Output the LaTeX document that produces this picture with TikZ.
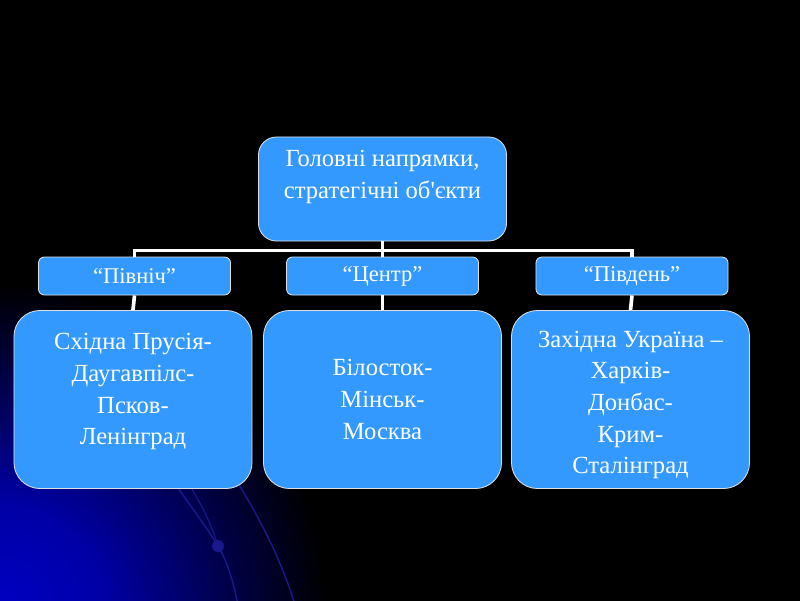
\documentclass[tikz,border=0pt]{standalone}
\usepackage{fontspec}
\setmainfont{Liberation Serif}
\newfontfamily\slidefont{Liberation Serif}
\usetikzlibrary{positioning}
\definecolor{boxblue}{RGB}{51,153,255}
\definecolor{swirl}{RGB}{25,25,140}
\definecolor{deepblue}{RGB}{0,0,195}
\pgfdeclareradialshading{slideglow}{\pgfpoint{0bp}{0bp}}{color(0bp)=(deepblue); color(6bp)=(deepblue!85!black); color(19bp)=(black); color(50bp)=(black)}
\newcommand{\padbelow}[1]{\rule[-#1]{0pt}{#1}}
\newcommand{\padabove}[1]{\rule{0pt}{#1}}
\begin{document}
\begin{tikzpicture}[x=0.025cm, y=-0.025cm,
      every node/.style={text=white, font=\slidefont\fontsize{17.5}{22.5}\selectfont},
      root/.style={draw=white!75!gray, line width=0.6pt, fill=boxblue, rounded corners=0.45cm, minimum width=6.2cm, minimum height=2.6cm, align=center},
      dir/.style={draw=white!75!gray, line width=0.6pt, fill=boxblue, rounded corners=0.15cm, minimum width=4.8cm, minimum height=0.95cm, font=\slidefont\fontsize{16}{19}\selectfont},
      goal/.style={draw=white!75!gray, line width=0.6pt, fill=boxblue, rounded corners=0.65cm, minimum width=5.95cm, minimum height=4.45cm, align=center},
      link/.style={white, line width=2.6pt},
    ]
    \useasboundingbox (0,0) rectangle (800,600);

    % background
    \fill[black] (-10,-10) rectangle (810,610);
    \begin{scope}
      \clip (-10,-10) rectangle (810,610);
      \shade[shading=slideglow] (-430,180) rectangle (430,1040);
      \draw[swirl, line width=1pt] (165,470) .. controls (190,505) and (205,525) .. (218,546) .. controls (226,560) and (232,575) .. (238,605);
      \draw[swirl, line width=0.8pt] (180,470) .. controls (200,500) and (212,525) .. (218,546);
      \draw[swirl, line width=1pt] (230,470) .. controls (255,510) and (280,555) .. (295,605);
      \fill[swirl] (218,546) circle (6);
    \end{scope}

    \node[root] (golovni) at (382.5,189) {Головні напрямки,\\ стратегічні об\textquotesingle єкти\padbelow{20.8pt}};

    \node[dir] (pivnich) at (134.5,276) {“Північ”};
    \node[dir] (tsentr) at (382.5,276) {“Центр”};
    \node[dir] (pivden) at (632,276) {“Південь”};

    \node[goal] (skhid) at (133,399.5) {Східна Прусія-\\ Даугавпілс-\\ Псков-\\ Ленінград\padbelow{14.8pt}};
    \node[goal] (bilostok) at (382.5,399.5) {Білосток-\\ Мінськ-\\ Москва};
    \node[goal] (zakhid) at (630.5,399.5) {\padabove{19.5pt}Західна Україна –\\ Харків-\\ Донбас-\\ Крим-\\ Сталінград};

    \draw[link] (golovni.south) -- ++(0,9) -| (pivnich.north);
    \draw[link] (golovni.south) -- (tsentr.north);
    \draw[link] (golovni.south) -- ++(0,9) -| (pivden.north);

    \draw[link] (pivnich.south) -- (skhid.north);
    \draw[link] (tsentr.south) -- (bilostok.north);
    \draw[link] (pivden.south) -- (zakhid.north);

  \end{tikzpicture}
\end{document}
